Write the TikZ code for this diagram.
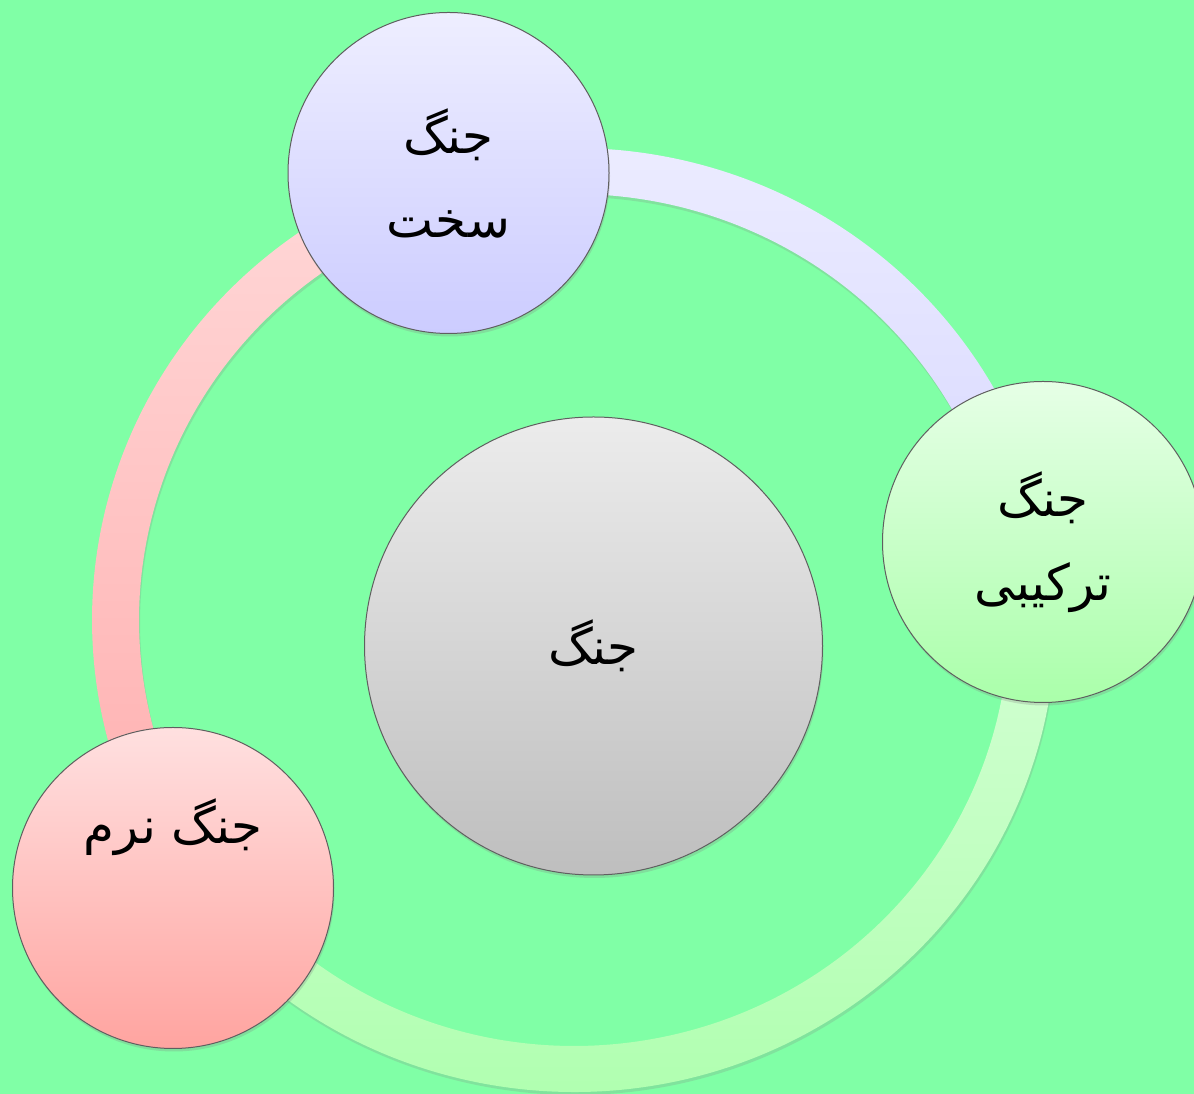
\documentclass[tikz,border=0pt]{standalone}
\usepackage{fontspec}
\usetikzlibrary{shadows,shadings}
\newfontfamily\arabicfont[Script=Arabic]{DejaVu Sans}
\TeXXeTstate=1
\definecolor{bg}{RGB}{128,255,166}
\definecolor{lavtop}{RGB}{238,238,255}
\definecolor{lavbot}{RGB}{204,204,255}
\definecolor{grntop}{RGB}{230,255,230}
\definecolor{grnbot}{RGB}{170,255,170}
\definecolor{pnktop}{RGB}{255,224,224}
\definecolor{pnkbot}{RGB}{255,164,160}
\definecolor{gretop}{RGB}{236,236,236}
\definecolor{grebot}{RGB}{190,190,190}
\definecolor{ringlavA}{RGB}{236,236,255}
\definecolor{ringlavB}{RGB}{216,216,255}
\definecolor{ringgrnA}{RGB}{216,255,216}
\definecolor{ringgrnB}{RGB}{172,255,172}
\definecolor{ringpnkA}{RGB}{255,216,216}
\definecolor{ringpnkB}{RGB}{255,174,174}
\definecolor{edge}{RGB}{95,95,95}
\begin{document}
\begin{tikzpicture}[x=1pt,y=1pt,
  sat/.style={circle, draw=edge, line width=1pt, minimum size=321pt, inner sep=0pt,
    align=center, font=\arabicfont\fontsize{50}{84}\selectfont,
    drop shadow={opacity=0.25, shadow xshift=1pt, shadow yshift=-3pt}},
  hub/.style={sat, minimum size=458pt},
  ringseg/.style={drop shadow={opacity=0.22, shadow xshift=1pt, shadow yshift=-3pt}}]
\useasboundingbox (0,0) rectangle (1194,1094);
\clip (0,0) rectangle (1194,1094);
\fill[bg] (0,0) rectangle (1194,1094);
% ring segments (ellipse centre 574,474)
\begin{scope}[shift={(574,474)}]
\shade[ringseg, top color=ringlavA, bottom color=ringlavB]
  (9.4:482 and 472) arc[start angle=9.4, end angle=105.7, x radius=482, y radius=472]
  -- (105.7:435 and 426) arc[start angle=105.7, end angle=9.4, x radius=435, y radius=426] -- cycle;
\shade[ringseg, top color=ringpnkA, bottom color=ringpnkB]
  (105.7:482 and 472) arc[start angle=105.7, end angle=213.8, x radius=482, y radius=472]
  -- (213.8:435 and 426) arc[start angle=213.8, end angle=105.7, x radius=435, y radius=426] -- cycle;
\shade[ringseg, top color=ringgrnA, bottom color=ringgrnB]
  (213.8:482 and 472) arc[start angle=213.8, end angle=369.4, x radius=482, y radius=472]
  -- (369.4:435 and 426) arc[start angle=369.4, end angle=213.8, x radius=435, y radius=426] -- cycle;
\end{scope}
% nodes
\node[hub, top color=gretop, bottom color=grebot] (war) at (593.5,448)
  {\beginR جنگ\endR};
\node[sat, top color=lavtop, bottom color=lavbot] (hard) at (448.5,921)
  {\beginR جنگ\endR\\\beginR سخت\endR};
\node[sat, top color=grntop, bottom color=grnbot] (hybrid) at (1043,552)
  {\beginR جنگ\endR\\\beginR ترکیبی\endR};
\node[sat, top color=pnktop, bottom color=pnkbot] (soft) at (173,206)
  {\beginR جنگ نرم\endR\\[50pt]\mbox{}};
\end{tikzpicture}
\end{document}
